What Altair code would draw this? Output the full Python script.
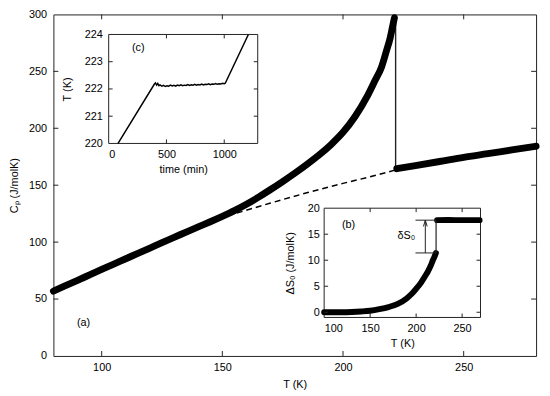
import altair as alt
import pandas as pd

FONT = "Liberation Sans"

# ---------------- panel (a): Cp(T) ----------------
T_below = [80, 85, 90, 95, 100, 105, 110, 115, 120, 125, 130, 135, 140, 145, 150, 155, 160,
           165, 170, 175, 180, 185, 190, 195, 200, 205, 210, 213, 216, 218, 219.5, 220.5, 221.3]
Cp_below = [57, 61.7, 66.4, 71.2, 76, 80.7, 85.4, 90.1, 94.8, 99.6, 104.2, 108.8, 113.4, 117.9, 122.6,
            127.6, 133.2, 139.5, 146.2, 153.2, 160.5, 168.2, 176.4, 185.6, 196.4, 210.3, 228, 240.8,
            254, 268, 279, 289, 297]
T_above = [222.3, 230, 240, 250, 260, 270, 280]
Cp_above = [164.5, 167.2, 170.8, 174.5, 177.7, 181, 184.2]
T_base = [156, 170, 185, 200, 210, 222]
Cp_base = [125.5, 134.3, 143.3, 151.6, 156.8, 163.5]
T_jump = [221.8, 221.8]
Cp_jump = [164.5, 300]
main_xticks = [100, 150, 200, 250]
main_yticks = [0, 50, 100, 150, 200, 250, 300]
main_yticks_inner = [50, 100, 150, 200, 250]
label_a = {"x": [92.5], "y": [28.6], "t": ["(a)"]}

# ---------------- inset (c): T(time) ----------------
time_c = [81, 396, 405, 415, 425, 435, 445, 460, 475, 490, 505, 520, 535, 550, 565, 580, 595, 610,
          625, 640, 655, 670, 685, 700, 715, 730, 745, 760, 775, 790, 805, 820, 835, 850, 865, 880,
          895, 910, 925, 940, 955, 970, 985, 1000, 1009, 1209]
T_c = [220.0, 222.18, 222.22, 222.14, 222.2, 222.12, 222.15,
       222.1, 222.13, 222.09, 222.12, 222.1, 222.14, 222.11, 222.13, 222.1, 222.14, 222.12, 222.15,
       222.12, 222.14, 222.13, 222.16, 222.13, 222.15, 222.14, 222.17, 222.14, 222.16, 222.15,
       222.18, 222.15, 222.17, 222.16, 222.19, 222.16, 222.18, 222.17, 222.2, 222.17, 222.19,
       222.18, 222.21, 222.19, 222.21, 224.0]
c_xticks = [0, 500, 1000]
c_xticks_inner = [500, 1000]
c_yticks = [220, 221, 222, 223, 224]
c_yticks_inner = [221, 222, 223]
label_c = {"x": [256], "y": [223.5], "t": ["(c)"]}

# ---------------- inset (b): dS0(T) ----------------
T_b_below = [100, 110, 120, 130, 140, 150, 160, 170, 180, 190, 195, 200, 205, 210, 213, 216, 218, 220, 221.5]
dS_below = [0, 0, 0, 0.05, 0.15, 0.3, 0.6, 1.0, 1.6, 2.7, 3.5, 4.5, 5.6, 7.0, 7.9, 9.0, 9.9, 10.7, 11.4]
T_b_above = [222.8, 235, 250, 269]
dS_above = [17.7, 17.72, 17.7, 17.7]
b_jump_T = [221.7, 221.7]
b_jump_dS = [11.4, 17.7]
bracket_T = [199.3, 221.7]
arrow_T = [210, 210]
b_xticks = [100, 150, 200, 250]
b_xticks_inner = [150, 200, 250]
b_yticks = [0, 5, 10, 15, 20]
b_yticks_inner = [0, 5, 10, 15]
label_b = {"x": [126.5, 189.3], "y": [16.8, 14.7], "t": ["(b)", "δS₀"]}

# ---------------- geometry (pixels inside plot area) ----------------
W, H = 489, 346
TICK, TICK_IN = 5, 4
C_X0, C_X1, C_Y0, C_Y1 = 56, 207, 20.3, 130.7
B_X0, B_X1, B_Y0, B_Y1 = 274.3, 432.7, 196.3, 307
INK = "#222222"

axis_common = dict(ticks=False, tickSize=0, domain=False, grid=False, labelFont=FONT,
                   labelFontSize=11, titleFont=FONT, titleFontSize=11, titleFontWeight="normal",
                   labelColor="black", titleColor="black", format="d")

# ---------------- main group ----------------
sx = alt.Scale(domain=[80, 280], nice=False, zero=False)
sy = alt.Scale(domain=[0, 300], nice=False, zero=False)
ax_main_x = alt.Axis(values=main_xticks, title="T (K)", orient="bottom", labelPadding=6,
                     titlePadding=6, **axis_common)
ax_main_y = alt.Axis(values=main_yticks, title="Cₚ (J/molK)", orient="left", labelPadding=7,
                     titlePadding=9, **axis_common)
MX = alt.X("x:Q", scale=sx, axis=ax_main_x)
MY = alt.Y("y:Q", scale=sy, axis=ax_main_y)

thick = dict(color="black", strokeWidth=7, strokeCap="round", strokeJoin="round",
             interpolate="monotone")
m_lo = alt.Chart(pd.DataFrame({"x": T_below, "y": Cp_below})).mark_line(**thick).encode(x=MX, y=MY)
m_hi = alt.Chart(pd.DataFrame({"x": T_above, "y": Cp_above})).mark_line(**thick).encode(x=MX, y=MY)
m_dash = alt.Chart(pd.DataFrame({"x": T_base, "y": Cp_base})).mark_line(
    color="black", strokeWidth=1.5, strokeDash=[6, 4], interpolate="monotone").encode(x=MX, y=MY)
m_jump = alt.Chart(pd.DataFrame({"x": T_jump, "y": Cp_jump})).mark_line(
    color=INK, strokeWidth=1.4).encode(x=MX, y=MY)
df_mx = pd.DataFrame({"x": main_xticks})
df_my = pd.DataFrame({"y": main_yticks_inner})
m_t1 = alt.Chart(df_mx).mark_rule(color=INK, strokeWidth=1).encode(x=MX, y=alt.value(H), y2=alt.value(H - TICK))
m_t2 = alt.Chart(df_mx).mark_rule(color=INK, strokeWidth=1).encode(x=MX, y=alt.value(0), y2=alt.value(TICK))
m_t3 = alt.Chart(df_my).mark_rule(color=INK, strokeWidth=1).encode(y=MY, x=alt.value(0), x2=alt.value(TICK))
m_t4 = alt.Chart(df_my).mark_rule(color=INK, strokeWidth=1).encode(y=MY, x=alt.value(W), x2=alt.value(W - TICK))
m_lab = alt.Chart(pd.DataFrame(label_a)).mark_text(font=FONT, fontSize=11, color="black").encode(
    x=MX, y=MY, text="t:N")
main = alt.layer(m_dash, m_jump, m_lo, m_hi, m_t1, m_t2, m_t3, m_t4, m_lab)

# ---------------- inset (c) ----------------
cx = alt.Scale(domain=[0, 1290], range=[C_X0, C_X1], nice=False, zero=False)
cy = alt.Scale(domain=[220, 224], range=[C_Y1, C_Y0], nice=False, zero=False)
ax_c_x = alt.Axis(values=c_xticks, title="time (min)", orient="bottom", offset=-(H - C_Y1),
                  labelPadding=5, titlePadding=4, **axis_common)
ax_c_y = alt.Axis(values=c_yticks, title="T (K)", orient="left", offset=-C_X0,
                  labelPadding=6.5, titlePadding=12, **axis_common)
CX = alt.X("x:Q", scale=cx, axis=ax_c_x)
CY = alt.Y("y:Q", scale=cy, axis=ax_c_y)
c_frame = alt.Chart(pd.DataFrame({"x": [0]})).mark_rect(fill="white", stroke=INK, strokeWidth=1).encode(
    x=alt.value(C_X0), x2=alt.value(C_X1), y=alt.value(C_Y0), y2=alt.value(C_Y1))
c_line = alt.Chart(pd.DataFrame({"x": time_c, "y": T_c})).mark_line(
    color="black", strokeWidth=1.5).encode(x=CX, y=CY)
df_cx = pd.DataFrame({"x": c_xticks_inner})
df_cy = pd.DataFrame({"y": c_yticks_inner})
c_t1 = alt.Chart(df_cx).mark_rule(color=INK, strokeWidth=1).encode(x=CX, y=alt.value(C_Y1), y2=alt.value(C_Y1 - TICK_IN))
c_t2 = alt.Chart(df_cx).mark_rule(color=INK, strokeWidth=1).encode(x=CX, y=alt.value(C_Y0), y2=alt.value(C_Y0 + TICK_IN))
c_t3 = alt.Chart(df_cy).mark_rule(color=INK, strokeWidth=1).encode(y=CY, x=alt.value(C_X0), x2=alt.value(C_X0 + TICK_IN))
c_t4 = alt.Chart(df_cy).mark_rule(color=INK, strokeWidth=1).encode(y=CY, x=alt.value(C_X1), x2=alt.value(C_X1 - TICK_IN))
c_lab = alt.Chart(pd.DataFrame(label_c)).mark_text(font=FONT, fontSize=11, color="black").encode(
    x=CX, y=CY, text="t:N")
inset_c = alt.layer(c_frame, c_line, c_t1, c_t2, c_t3, c_t4, c_lab)

# ---------------- inset (b) ----------------
bx = alt.Scale(domain=[100, 270], range=[B_X0, B_X1], nice=False, zero=False)
by = alt.Scale(domain=[-1, 20], range=[B_Y1, B_Y0], nice=False, zero=False)
ax_b_x = alt.Axis(values=b_xticks, title="T (K)", orient="bottom", offset=-(H - B_Y1),
                  labelPadding=5, titlePadding=4, **axis_common)
ax_b_y = alt.Axis(values=b_yticks, title="ΔS₀ (J/molK)", orient="left", offset=-B_X0,
                  labelPadding=5, titlePadding=12, **axis_common)
BX = alt.X("x:Q", scale=bx, axis=ax_b_x)
BY = alt.Y("y:Q", scale=by, axis=ax_b_y)
b_frame = alt.Chart(pd.DataFrame({"x": [0]})).mark_rect(fill="white", stroke=INK, strokeWidth=1).encode(
    x=alt.value(B_X0), x2=alt.value(B_X1), y=alt.value(B_Y0), y2=alt.value(B_Y1))
thick_b = dict(color="black", strokeWidth=6, strokeCap="round", strokeJoin="round",
               interpolate="monotone")
b_lo = alt.Chart(pd.DataFrame({"x": T_b_below, "y": dS_below})).mark_line(**thick_b).encode(x=BX, y=BY)
b_hi = alt.Chart(pd.DataFrame({"x": T_b_above, "y": dS_above})).mark_line(**thick_b).encode(x=BX, y=BY)
b_jump = alt.Chart(pd.DataFrame({"x": b_jump_T, "y": b_jump_dS})).mark_line(
    color=INK, strokeWidth=1.2).encode(x=BX, y=BY)
b_top = alt.Chart(pd.DataFrame({"x": bracket_T, "y": [b_jump_dS[1]] * 2})).mark_line(
    color=INK, strokeWidth=1).encode(x=BX, y=BY)
b_bot = alt.Chart(pd.DataFrame({"x": bracket_T, "y": [b_jump_dS[0]] * 2})).mark_line(
    color=INK, strokeWidth=1).encode(x=BX, y=BY)
b_arrow = alt.Chart(pd.DataFrame({"x": arrow_T, "y": b_jump_dS})).mark_line(
    color=INK, strokeWidth=1).encode(x=BX, y=BY)
b_head = alt.Chart(pd.DataFrame({"x": [arrow_T[0]], "y": [b_jump_dS[1]]})).mark_point(
    shape="M-0.6,1 L0,-1 L0.6,1", filled=False, size=40, color=INK, strokeWidth=1,
    yOffset=3.2, opacity=1).encode(x=BX, y=BY)
df_bx = pd.DataFrame({"x": b_xticks_inner})
df_by = pd.DataFrame({"y": b_yticks_inner})
b_t1 = alt.Chart(df_bx).mark_rule(color=INK, strokeWidth=1).encode(x=BX, y=alt.value(B_Y1), y2=alt.value(B_Y1 - TICK_IN))
b_t2 = alt.Chart(df_bx).mark_rule(color=INK, strokeWidth=1).encode(x=BX, y=alt.value(B_Y0), y2=alt.value(B_Y0 + TICK_IN))
b_t3 = alt.Chart(df_by).mark_rule(color=INK, strokeWidth=1).encode(y=BY, x=alt.value(B_X0), x2=alt.value(B_X0 + TICK_IN))
b_t4 = alt.Chart(df_by).mark_rule(color=INK, strokeWidth=1).encode(y=BY, x=alt.value(B_X1), x2=alt.value(B_X1 - TICK_IN))
b_lab = alt.Chart(pd.DataFrame(label_b)).mark_text(font=FONT, fontSize=11, color="black").encode(
    x=BX, y=BY, text="t:N")
inset_b = alt.layer(b_frame, b_lo, b_hi, b_jump, b_top, b_bot, b_arrow, b_head,
                    b_t1, b_t2, b_t3, b_t4, b_lab)

chart = alt.layer(main, inset_c, inset_b).resolve_scale(
    x="independent", y="independent").resolve_axis(
    x="independent", y="independent").properties(
    width=W, height=H,
    padding={"left": 46, "top": 4, "right": 6, "bottom": 34},
    autosize=alt.AutoSizeParams(type="none"),
    background="white",
).configure_view(stroke=INK, strokeWidth=1)

chart.save("out.html", embed_options={"renderer": "svg", "actions": False})
